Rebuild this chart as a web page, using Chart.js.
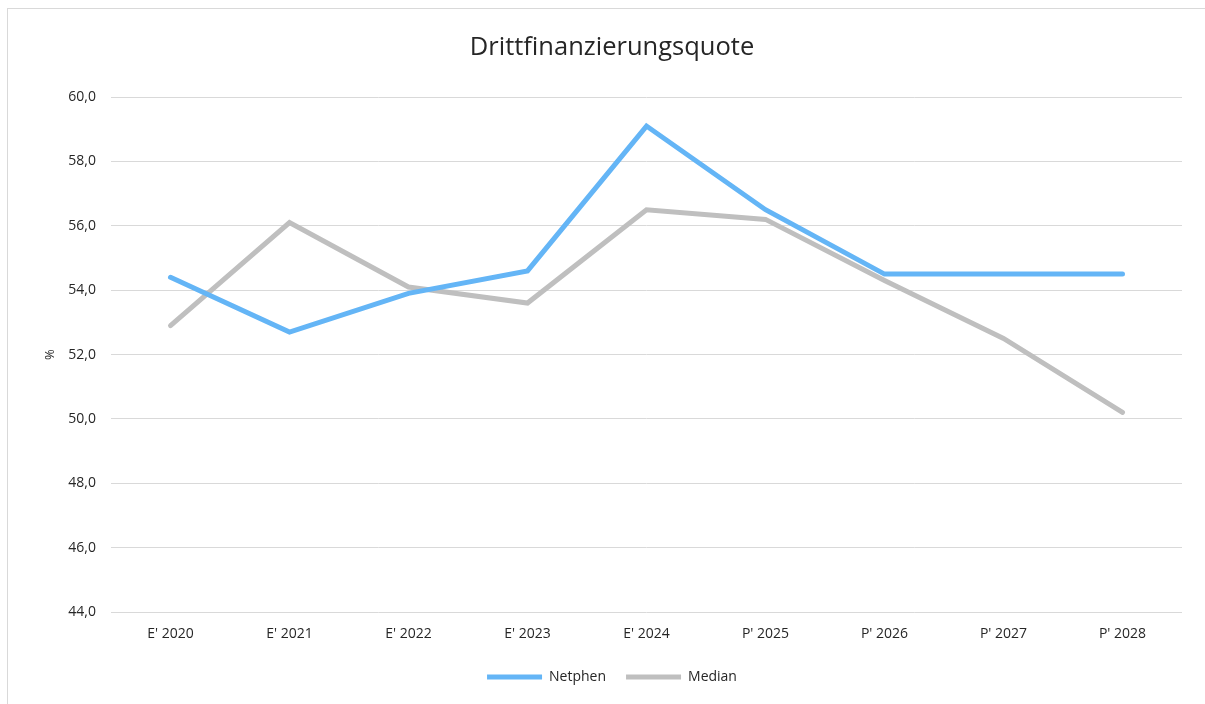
<!DOCTYPE html>
<html>
<head>
<meta charset="utf-8">
<script src="https://cdn.jsdelivr.net/npm/chart.js@4/dist/chart.umd.min.js"></script>
<style>
    html, body { margin: 0; padding: 0; background: #fff; overflow: hidden; }
    #frame {
        position: absolute; left: 7px; top: 8px; width: 1300px; height: 800px;
        border-left: 1px solid #d9d9d9; border-top: 1px solid #d9d9d9;
    }
    #wrap { position: absolute; left: 0; top: 0; width: 1205px; height: 704px; }
</style>
</head>
<body>
<div id="frame"></div>
<div id="wrap"><canvas id="chart"></canvas></div>
<script>
// Values
const categories = ["E' 2020", "E' 2021", "E' 2022", "E' 2023", "E' 2024", "P' 2025", "P' 2026", "P' 2027", "P' 2028"];
const netphen = [54.4, 52.7, 53.9, 54.6, 59.1, 56.5, 54.5, 54.5, 54.5];
const median = [52.9, 56.1, 54.1, 53.6, 56.5, 56.2, 54.3, 52.5, 50.2];
const yTicks = { min: 44, max: 60, step: 2 };

const FONT = "'Open Sans', 'Noto Sans', sans-serif";
const TEXT = '#262626';

const makeLine = (label, data, color) => ({
    label: label,
    data: data,
    borderColor: color,
    backgroundColor: color,
    borderWidth: 5,
    borderCapStyle: 'round',
    pointRadius: 0,
    pointHoverRadius: 0,
    tension: 0,
    fill: false
});

new Chart(document.getElementById('chart'), {
    type: 'line',
    data: {
        labels: categories,
        datasets: [
            makeLine('Netphen', netphen, '#64b5f6'),
            makeLine('Median', median, '#bfbfbf')
        ]
    },
    options: {
        responsive: true,
        maintainAspectRatio: false,
        animation: false,
        layout: { padding: { left: 42, right: 23, top: 0, bottom: 10 } },
        plugins: {
            title: {
                display: true,
                text: 'Drittfinanzierungsquote',
                color: TEXT,
                font: { family: FONT, size: 25.5, weight: 'normal' },
                padding: { top: 32, bottom: 34.5 }
            },
            legend: {
                position: 'bottom',
                labels: {
                    usePointStyle: true,
                    pointStyle: 'line',
                    pointStyleWidth: 55,
                    padding: 20,
                    color: TEXT,
                    font: { family: FONT, size: 14 }
                }
            },
            tooltip: { enabled: false }
        },
        scales: {
            x: {
                offset: true,
                grid: { display: false, drawTicks: false },
                border: { display: false },
                ticks: {
                    color: TEXT,
                    padding: 14,
                    maxRotation: 0,
                    font: { family: FONT, size: 14 }
                },
                afterFit: (scale) => { scale.height = 38; }
            },
            y: {
                min: yTicks.min,
                max: yTicks.max,
                grid: { color: '#d9d9d9', lineWidth: 1, drawTicks: false },
                border: { display: false },
                ticks: {
                    stepSize: yTicks.step,
                    padding: 15,
                    color: TEXT,
                    font: { family: FONT, size: 14 },
                    callback: (value) => value.toFixed(1).replace('.', ',')
                },
                title: {
                    display: true,
                    text: '%',
                    color: TEXT,
                    font: { family: FONT, size: 13 },
                    padding: { top: 0, bottom: 0 }
                },
                afterFit: (scale) => { scale.width = 69; }
            }
        }
    }
});
</script>
</body>
</html>
